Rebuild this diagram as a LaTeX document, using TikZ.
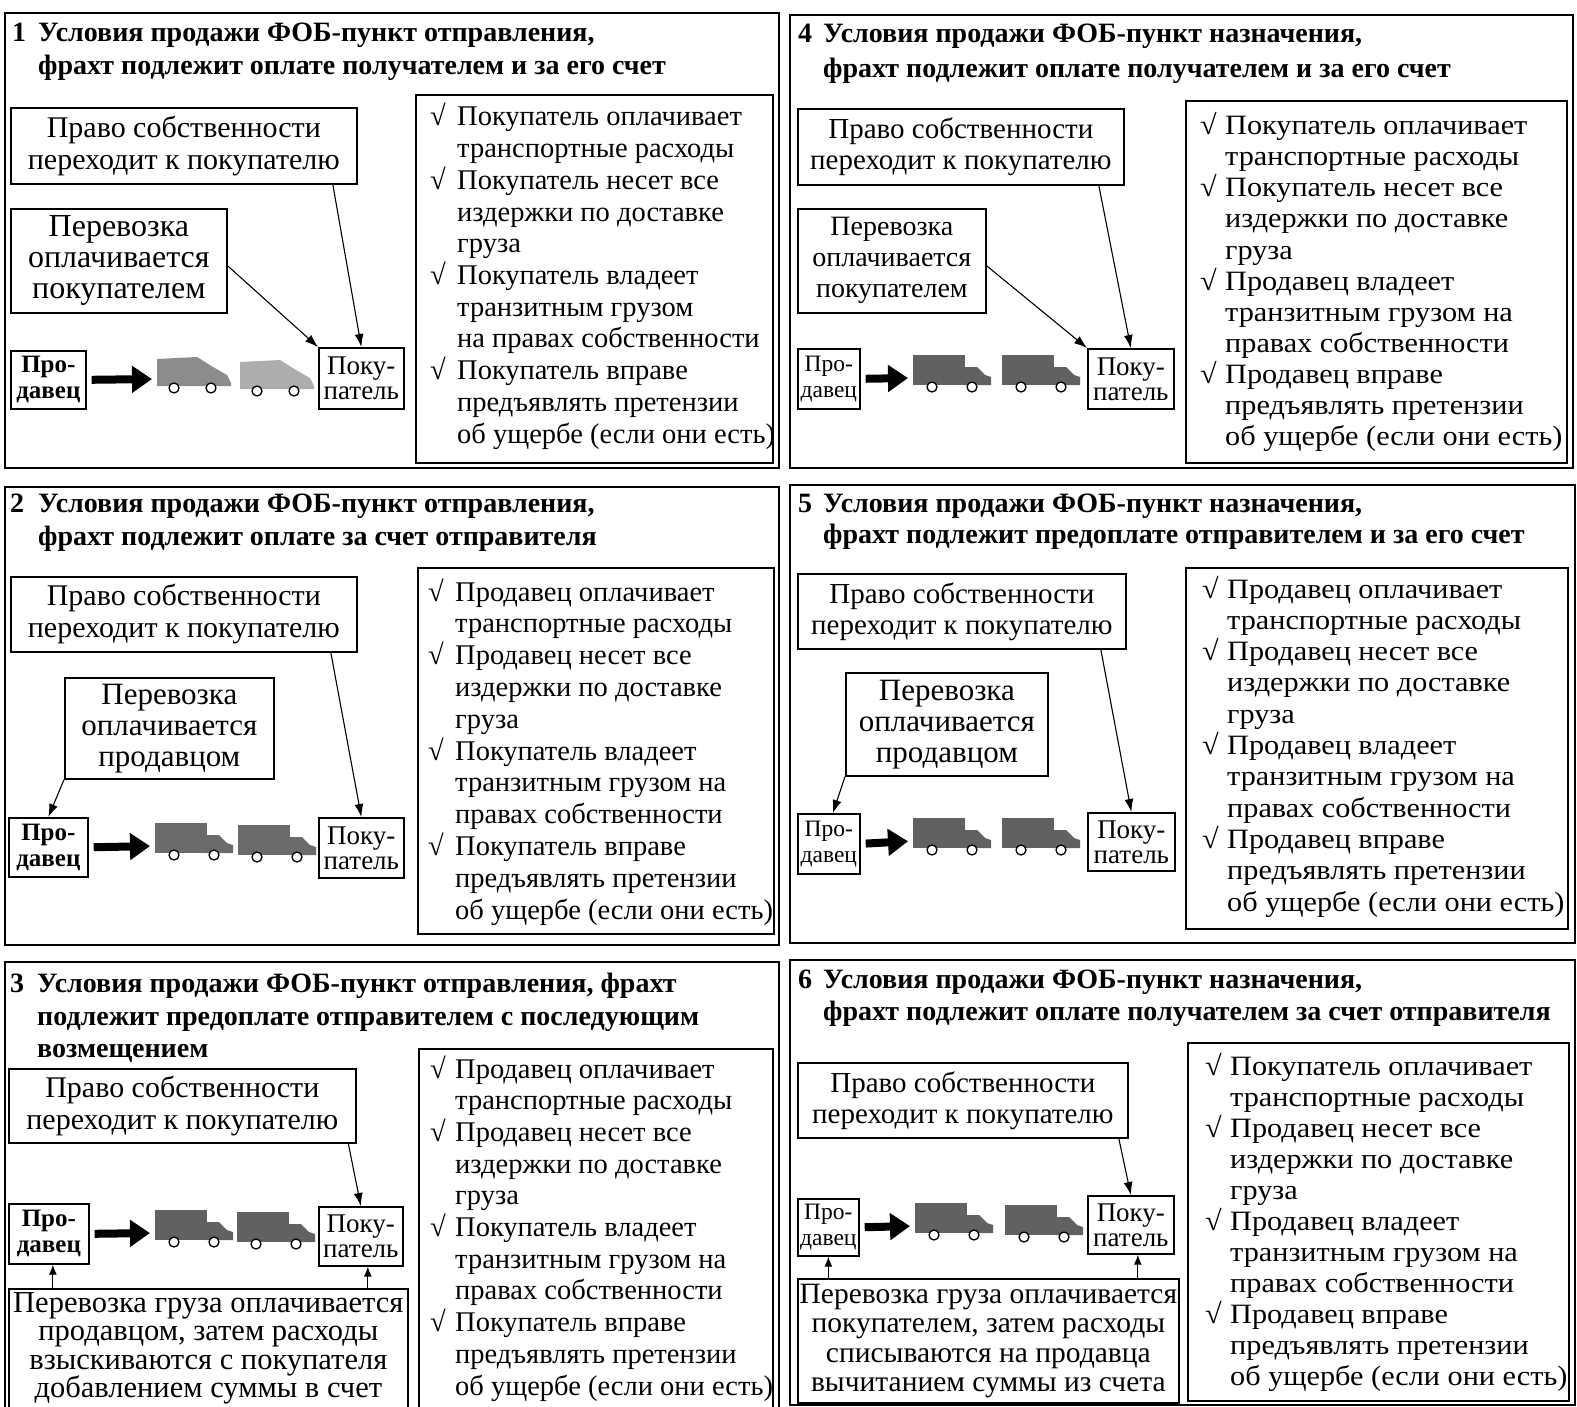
\documentclass[tikz,border=0pt]{standalone}
\usepackage{fontspec}
\setmainfont{Liberation Serif}
\newfontfamily\wideserif[FakeStretch=1.08]{Liberation Serif}
\usetikzlibrary{arrows.meta}
\newcommand\fsz[2]{\fontsize{#1}{#2}\selectfont}

\tikzset{
  panel/.style={draw, line width=2pt},
  box/.style={draw, line width=1.7pt, inner sep=0pt, align=center, anchor=north west, fill=white},
  ownL/.style={box, font=\fsz{30}{32}},
  ownR/.style={box, font=\fsz{29}{31}},
  payL/.style={box, font=\fsz{31}{31}},
  payR/.style={box, font=\fsz{28}{31}},
  selL/.style={box, font=\bfseries\fsz{25}{26}},
  selR/.style={box, font=\fsz{23.5}{26}},
  buybox/.style={box, font=\fsz{27}{25}},
  botbox/.style={box, font=\fsz{30}{29}},
  listbox/.style={draw, line width=1.7pt, inner sep=0pt, anchor=north west},
  ttl/.style={anchor=base west, inner sep=0pt, font=\bfseries\fsz{28}{32}},
  itmL/.style={anchor=base west, inner sep=0pt, font=\fsz{28.5}{31}},
  itmR/.style={anchor=base west, inner sep=0pt, font=\wideserif\fsz{28}{31}},
  link/.style={-{Latex[length=13pt,width=9pt]}, line width=1.1pt},
  uplink/.style={-{Latex[length=10pt,width=8pt]}, line width=1.1pt},
  bigarrow/.style={-{Triangle[length=20pt,width=26pt]}, line width=8pt},
  truck/.pic={
    \fill[pic actions] (0,0) rectangle (52,30);
    \fill[pic actions] (51,12) -- (64,12) -- (72,20) -- (78,22) -- (78,30) -- (51,30) -- cycle;
    \draw[line width=1.3pt, fill=white] (19,32) circle (5) (59,32) circle (5);
  },
  van/.pic={
    \fill[pic actions] (0,4) -- (40,2) -- (56,12) -- (70,20) -- (74,28) -- (74,31) -- (0,31) -- cycle;
    \draw[line width=1.3pt, fill=white] (17,33) circle (5) (54,33) circle (5);
  },
}

% checked list: name, item style, check x, text x, first baseline, line step, lines
\newcommand\chklist[7]{%
  \foreach \ln [count=\k] in {#7} {
    \node[#2] (#1-\k) at (#4, {#5+(\k-1)*#6}) {\ln};
  }
  \foreach \k in {1,3,6,9} {
    \node[#2] (#1-c\k) at (#3, {#5+(\k-1)*#6}) {√};
  }
}

\begin{document}
\begin{tikzpicture}[x=1pt, y=-1pt]
\useasboundingbox (0,0) rectangle (1577,1407);
\clip (0,0) rectangle (1577,1407);
\fill[white] (0,0) rectangle (1577,1407);

% ---------- panel 1 ----------
\draw[panel] (5,13) rectangle (779,468);
\node[ttl] (p1n) at (12,42) {1};
\node[ttl] (p1a) at (38,42) {Условия продажи ФОБ-пункт отправления,};
\node[ttl] (p1b) at (38,75) {фрахт подлежит оплате получателем и за его счет};
\node[ownL, minimum width=346pt, minimum height=76pt] (p1own) at (10,107) {Право собственности\\переходит к покупателю};
\node[payL, font=\fsz{32}{31}, minimum width=216pt, minimum height=104pt] (p1pay) at (10,208) {Перевозка\\оплачивается\\покупателем};
\node[selL, minimum width=75pt, minimum height=58pt] (p1sel) at (10,350) {Про-\\давец};
\node[buybox, minimum width=85pt, minimum height=61pt] (p1buy) at (318,347) {Поку-\\патель};
\pic[fill=black!45] at (157,355) {van};
\pic[fill=black!32] at (240,358) {van};
\coordinate (p1t1) at (157,379);
\draw[bigarrow, shorten <=5pt, shorten >=5pt] (p1sel.east) -- (p1t1);
\draw[link] ([xshift=149pt]p1own.south) -- (p1buy.north);
\draw[link] ([yshift=-5pt]p1pay.east) -- (p1buy.north west);
\node[listbox, minimum width=357pt, minimum height=368pt] (p1list) at (415,94) {};
\chklist{p1l}{itmL}{430}{457}{126}{31.7}{Покупатель оплачивает, транспортные расходы, Покупатель несет все, издержки по доставке, груза, Покупатель владеет, транзитным грузом, на правах собственности, Покупатель вправе, предъявлять претензии, об ущербе (если они есть)}

% ---------- panel 4 ----------
\draw[panel] (790,15) rectangle (1573,468);
\node[ttl] (p4n) at (798,43) {4};
\node[ttl] (p4a) at (823,43) {Условия продажи ФОБ-пункт назначения,};
\node[ttl] (p4b) at (823,78) {фрахт подлежит оплате получателем и за его счет};
\node[ownR, minimum width=326pt, minimum height=76pt] (p4own) at (797,108) {Право собственности\\переходит к покупателю};
\node[payR, minimum width=188pt, minimum height=104pt] (p4pay) at (797,208) {Перевозка\\оплачивается\\покупателем};
\node[selR, minimum width=62pt, minimum height=60pt] (p4sel) at (797,348) {Про-\\давец};
\node[buybox, minimum width=86pt, minimum height=60pt] (p4buy) at (1087,348) {Поку-\\патель};
\pic[fill=black!62] at (913,355) {truck};
\pic[fill=black!62] at (1002,355) {truck};
\coordinate (p4t1) at (913,378);
\draw[bigarrow, shorten <=5pt, shorten >=5pt] (p4sel.east) -- (p4t1);
\draw[link] ([xshift=138pt]p4own.south) -- (p4buy.north);
\draw[link] ([yshift=-5pt]p4pay.east) -- (p4buy.north west);
\node[listbox, minimum width=381pt, minimum height=362pt] (p4list) at (1185,100) {};
\chklist{p4l}{itmR}{1200}{1225}{135}{31.0}{Покупатель оплачивает, транспортные расходы, Покупатель несет все, издержки по доставке, груза, Продавец владеет, транзитным грузом на, правах собственности, Продавец вправе, предъявлять претензии, об ущербе (если они есть)}

% ---------- panel 2 ----------
\draw[panel] (5,487) rectangle (779,945);
\node[ttl] (p2n) at (10,512) {2};
\node[ttl] (p2a) at (38,512) {Условия продажи ФОБ-пункт отправления,};
\node[ttl] (p2b) at (38,545) {фрахт подлежит оплате за счет отправителя};
\node[ownL, minimum width=346pt, minimum height=75pt] (p2own) at (10,576) {Право собственности\\переходит к покупателю};
\node[payL, minimum width=209pt, minimum height=101pt] (p2pay) at (64,677) {Перевозка\\оплачивается\\продавцом};
\node[selL, minimum width=79pt, minimum height=59pt] (p2sel) at (8,817) {Про-\\давец};
\node[buybox, minimum width=85pt, minimum height=60pt] (p2buy) at (318,817) {Поку-\\патель};
\pic[fill=black!58] at (155,823) {truck};
\pic[fill=black!58] at (238,825) {truck};
\coordinate (p2t1) at (155,846);
\draw[bigarrow, shorten <=5pt, shorten >=5pt] (p2sel.east) -- (p2t1);
\draw[link] ([xshift=147pt]p2own.south) -- (p2buy.north);
\draw[link] (p2pay.south west) -- (p2sel.north);
\node[listbox, minimum width=356pt, minimum height=366pt] (p2list) at (417,567) {};
\chklist{p2l}{itmL}{428}{455}{601}{31.8}{Продавец оплачивает, транспортные расходы, Продавец несет все, издержки по доставке, груза, Покупатель владеет, транзитным грузом на, правах собственности, Покупатель вправе, предъявлять претензии, об ущербе (если они есть)}

% ---------- panel 5 ----------
\draw[panel] (790,485) rectangle (1575,943);
\node[ttl] (p5n) at (798,512) {5};
\node[ttl] (p5a) at (823,512) {Условия продажи ФОБ-пункт назначения,};
\node[ttl] (p5b) at (823,543) {фрахт подлежит предоплате отправителем и за его счет};
\node[ownR, minimum width=328pt, minimum height=75pt] (p5own) at (797,573) {Право собственности\\переходит к покупателю};
\node[payL, minimum width=202pt, minimum height=103pt] (p5pay) at (845,672) {Перевозка\\оплачивается\\продавцом};
\node[selR, minimum width=62pt, minimum height=60pt] (p5sel) at (797,813) {Про-\\давец};
\node[buybox, minimum width=87pt, minimum height=58pt] (p5buy) at (1087,812) {Поку-\\патель};
\pic[fill=black!62] at (913,818) {truck};
\pic[fill=black!62] at (1002,818) {truck};
\coordinate (p5t1) at (913,841);
\draw[bigarrow, shorten <=5pt, shorten >=5pt] (p5sel.east) -- (p5t1);
\draw[link] ([xshift=139pt]p5own.south) -- (p5buy.north);
\draw[link] (p5pay.south west) -- ([xshift=4pt]p5sel.north);
\node[listbox, minimum width=382pt, minimum height=361pt] (p5list) at (1185,567) {};
\chklist{p5l}{itmR}{1202}{1227}{598}{31.3}{Продавец оплачивает, транспортные расходы, Продавец несет все, издержки по доставке, груза, Продавец владеет, транзитным грузом на, правах собственности, Продавец вправе, предъявлять претензии, об ущербе (если они есть)}

% ---------- panel 3 ----------
\draw[panel] (5,962) rectangle (779,1420);
\node[ttl] (p3n) at (10,992) {3};
\node[ttl] (p3a) at (37,992) {Условия продажи ФОБ-пункт отправления, фрахт};
\node[ttl] (p3b) at (37,1025) {подлежит предоплате отправителем с последующим};
\node[ttl] (p3c) at (37,1057) {возмещением};
\node[ownL, minimum width=347pt, minimum height=74pt] (p3own) at (8,1068) {Право собственности\\переходит к покупателю};
\node[selL, minimum width=80pt, minimum height=60pt] (p3sel) at (8,1203) {Про-\\давец};
\node[buybox, minimum width=84pt, minimum height=59pt] (p3buy) at (318,1206) {Поку-\\патель};
\pic[fill=black!62] at (155,1210) {truck};
\pic[fill=black!62] at (237,1212) {truck};
\coordinate (p3t1) at (155,1233);
\draw[bigarrow, shorten <=5pt, shorten >=5pt] (p3sel.east) -- (p3t1);
\draw[link] ([xshift=166pt]p3own.south) -- (p3buy.north);
\node[botbox, font=\fsz{30.5}{28.5}, minimum width=399pt, minimum height=119pt] (p3bot) at (8,1288) {Перевозка груза оплачивается\\продавцом, затем расходы\\взыскиваются с покупателя\\добавлением суммы в счет};
\draw[uplink] ([xshift=4pt]p3sel.south |- p3bot.north) -- ([xshift=4pt]p3sel.south);
\draw[uplink] ([xshift=7pt]p3buy.south |- p3bot.north) -- ([xshift=7pt]p3buy.south);
\node[listbox, minimum width=354pt, minimum height=370pt] (p3list) at (418,1048) {};
\chklist{p3l}{itmL}{430}{455}{1078}{31.7}{Продавец оплачивает, транспортные расходы, Продавец несет все, издержки по доставке, груза, Покупатель владеет, транзитным грузом на, правах собственности, Покупатель вправе, предъявлять претензии, об ущербе (если они есть)}

% ---------- panel 6 ----------
\draw[panel] (790,960) rectangle (1575,1405);
\node[ttl] (p6n) at (798,988) {6};
\node[ttl] (p6a) at (823,988) {Условия продажи ФОБ-пункт назначения,};
\node[ttl] (p6b) at (823,1020) {фрахт подлежит оплате получателем за счет отправителя};
\node[ownR, minimum width=330pt, minimum height=75pt] (p6own) at (797,1062) {Право собственности\\переходит к покупателю};
\node[selR, minimum width=61pt, minimum height=57pt] (p6sel) at (797,1198) {Про-\\давец};
\node[buybox, minimum width=86pt, minimum height=58pt] (p6buy) at (1087,1195) {Поку-\\патель};
\pic[fill=black!62] at (915,1203) {truck};
\pic[fill=black!62] at (1005,1205) {truck};
\coordinate (p6t1) at (915,1226);
\draw[bigarrow, shorten <=5pt, shorten >=5pt] (p6sel.east) -- (p6t1);
\draw[link] ([xshift=156pt]p6own.south) -- (p6buy.north);
\node[botbox, font=\fsz{29.5}{29.5}, minimum width=381pt, minimum height=124pt] (p6bot) at (797,1278) {Перевозка груза оплачивается\\покупателем, затем расходы\\списываются на продавца\\вычитанием суммы из счета};
\draw[uplink] (p6sel.south |- p6bot.north) -- (p6sel.south);
\draw[uplink] ([xshift=7pt]p6buy.south |- p6bot.north) -- ([xshift=7pt]p6buy.south);
\node[listbox, minimum width=381pt, minimum height=358pt] (p6list) at (1187,1042) {};
\chklist{p6l}{itmR}{1205}{1230}{1075}{31.0}{Покупатель оплачивает, транспортные расходы, Продавец несет все, издержки по доставке, груза, Продавец владеет, транзитным грузом на, правах собственности, Продавец вправе, предъявлять претензии, об ущербе (если они есть)}
\end{tikzpicture}
\end{document}
